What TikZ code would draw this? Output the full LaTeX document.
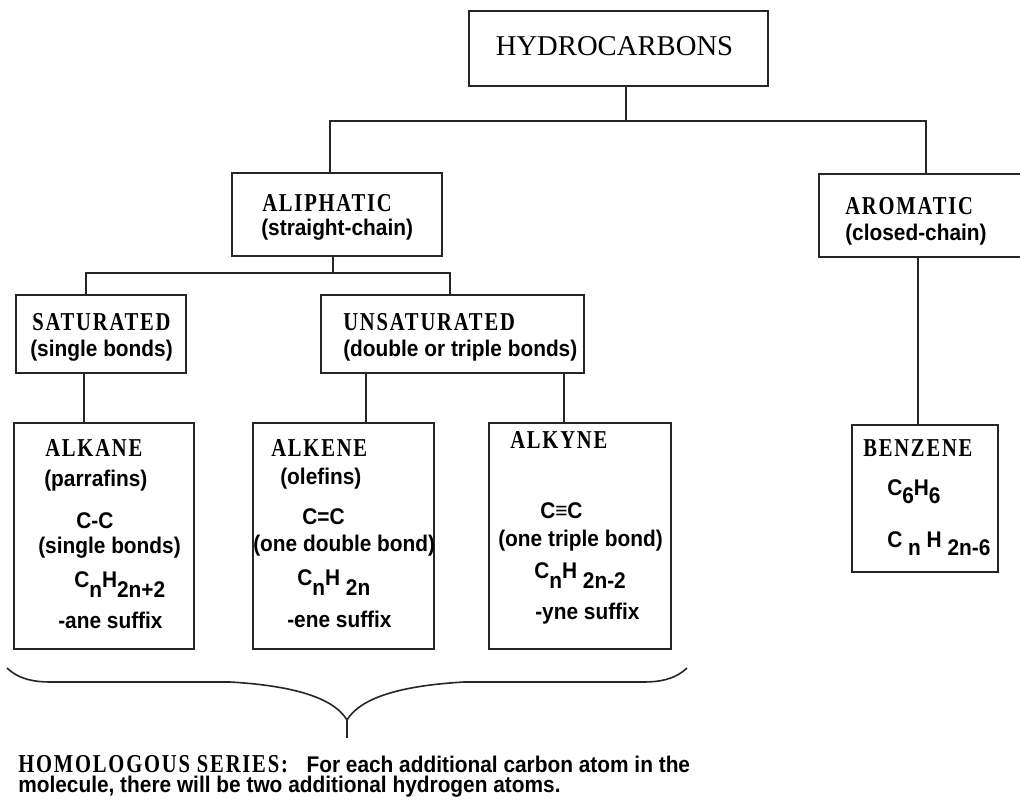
\documentclass[tikz,border=0pt]{standalone}
\usepackage{fontspec}
\setmainfont{Liberation Serif}
\newfontfamily\bodyf[FakeStretch=0.92]{Liberation Sans}
\newfontfamily\titlef[FakeStretch=0.8,LetterSpace=7]{Liberation Serif}
\newcommand\bodyfnt{\bodyf\bfseries\fontsize{17pt}{19pt}\selectfont}
\newcommand\titlefnt{\titlef\bfseries\fontsize{19.3pt}{22pt}\selectfont}
\newcommand\hydrofnt{\rmfamily\fontsize{21.5pt}{24pt}\selectfont}
\newcommand\lo[1]{\raisebox{-7.5pt}{#1}}
\newcommand\loB[1]{\raisebox{-6.5pt}{#1}}
\usetikzlibrary{fit}
\begin{document}
\begin{tikzpicture}[x=0.75pt,y=-0.75pt,
  box/.style={draw=black!85,line width=1.5pt,inner sep=0pt,fit={#1}},
  conn/.style={draw=black!85,line width=1.5pt},
  lbl/.style={anchor=base west,inner sep=0pt,font=\bodyfnt},
  ttl/.style={anchor=base west,inner sep=0pt,font=\titlefnt}]
\fill[white] (0,0) rectangle (1020,801);
\useasboundingbox (0,0) rectangle (1020,801);
% boxes
\node[box={(469,11) (768,86)}] (hydro) {};
\node[box={(232,173) (442,256)}] (aliph) {};
\node[box={(819,174) (1040,257)}] (arom) {};
\node[box={(16,295) (186,373)}] (sat) {};
\node[box={(321,295) (584,373)}] (unsat) {};
\node[box={(14,423) (194,649)}] (alkane) {};
\node[box={(253,423) (434,649)}] (alkene) {};
\node[box={(489,423) (671,649)}] (alkyne) {};
\node[box={(852,425) (998,572)}] (benz) {};
% texts
\node[anchor=base,inner sep=0pt,font=\hydrofnt] (thydro) at (614.5,55) {HYDROCARBONS};
\node[ttl] (taliph) at (262,211) {ALIPHATIC};
\node[lbl] (taliph2) at (261,235) {(straight-chain)};
\node[ttl] (tarom) at (845,214) {AROMATIC};
\node[lbl] (tarom2) at (845,240) {(closed-chain)};
\node[ttl] (tsat) at (32,330) {SATURATED};
\node[lbl] (tsat2) at (30,356) {(single bonds)};
\node[ttl] (tunsat) at (343,330) {UNSATURATED};
\node[lbl] (tunsat2) at (343,356) {(double or triple bonds)};
\node[ttl] (tak1) at (45,456) {ALKANE};
\node[lbl] (tak2) at (44,486) {(parrafins)};
\node[lbl] (tak3) at (76,528) {C-C};
\node[lbl] (tak4) at (38,553) {(single bonds)};
\node[lbl] (tak5) at (74,587) {C\lo{n}H\lo{2n+2}};
\node[lbl] (tak6) at (58,628) {-ane suffix};
\node[ttl] (tae1) at (271,456) {ALKENE};
\node[lbl] (tae2) at (280,484) {(olefins)};
\node[lbl] (tae3) at (302,524) {C=C};
\node[lbl] (tae4) at (253,551) {(one double bond)};
\node[lbl] (tae5) at (297,585) {C\lo{n}H \lo{2n}};
\node[lbl] (tae6) at (287,627) {-ene suffix};
\node[ttl] (tay1) at (510,448) {ALKYNE};
\node[lbl] (tay3) at (540,518) {C≡C};
\node[lbl] (tay4) at (498,546) {(one triple bond)};
\node[lbl] (tay5) at (534,578) {C\lo{n}H \lo{2n-2}};
\node[lbl] (tay6) at (535,619) {-yne suffix};
\node[ttl] (tbz1) at (863,456) {BENZENE};
\node[lbl] (tbz2) at (887,495) {C\loB{6}H\loB{6}};
\node[lbl] (tbz3) at (887,547) {C \loB{n} H \loB{2n-6}};
\node[lbl,align=left] (tfoot) at (18,792) {{\titlefnt HOMOLOGOUS SERIES:}\hspace{14pt}For each additional carbon atom in the\\[-4.5pt]
molecule, there will be two additional hydrogen atoms.};
% connectors
\coordinate (j1) at (626,121);
\coordinate (j1l) at (330,121);
\coordinate (j1r) at (926,121);
\draw[conn] (hydro.south -| j1) -- (j1);
\draw[conn] (aliph.north -| j1l) -- (j1l) -- (j1r) -- (arom.north -| j1r);
\coordinate (j2) at (333,273);
\coordinate (j2l) at (86,273);
\coordinate (j2r) at (450,273);
\draw[conn] (aliph.south -| j2) -- (j2);
\draw[conn] (sat.north -| j2l) -- (j2l) -- (j2r) -- (unsat.north -| j2r);
\coordinate (c1) at (84,400);
\coordinate (c2) at (366,400);
\coordinate (c3) at (564,400);
\coordinate (c4) at (918,400);
\draw[conn] (sat.south -| c1) -- (alkane.north -| c1);
\draw[conn] (unsat.south -| c2) -- (alkene.north -| c2);
\draw[conn] (unsat.south -| c3) -- (alkyne.north -| c3);
\draw[conn] (arom.south -| c4) -- (benz.north -| c4);
% brace
\coordinate (bl) at (7,668);
\coordinate (br) at (687,668);
\coordinate (btip) at (347,720);
\coordinate (bstem) at (347,738);
\draw[conn,line width=1.2pt] (bl) .. controls (20,680) and (35,682) .. (52,682) -- (230,682)
  .. controls (300,686) and (335,700) .. (btip)
  .. controls (359,700) and (394,686) .. (464,682) -- (642,682)
  .. controls (659,682) and (674,680) .. (br);
\draw[conn,line width=1.2pt] (btip) -- (bstem);
\end{tikzpicture}
\end{document}
